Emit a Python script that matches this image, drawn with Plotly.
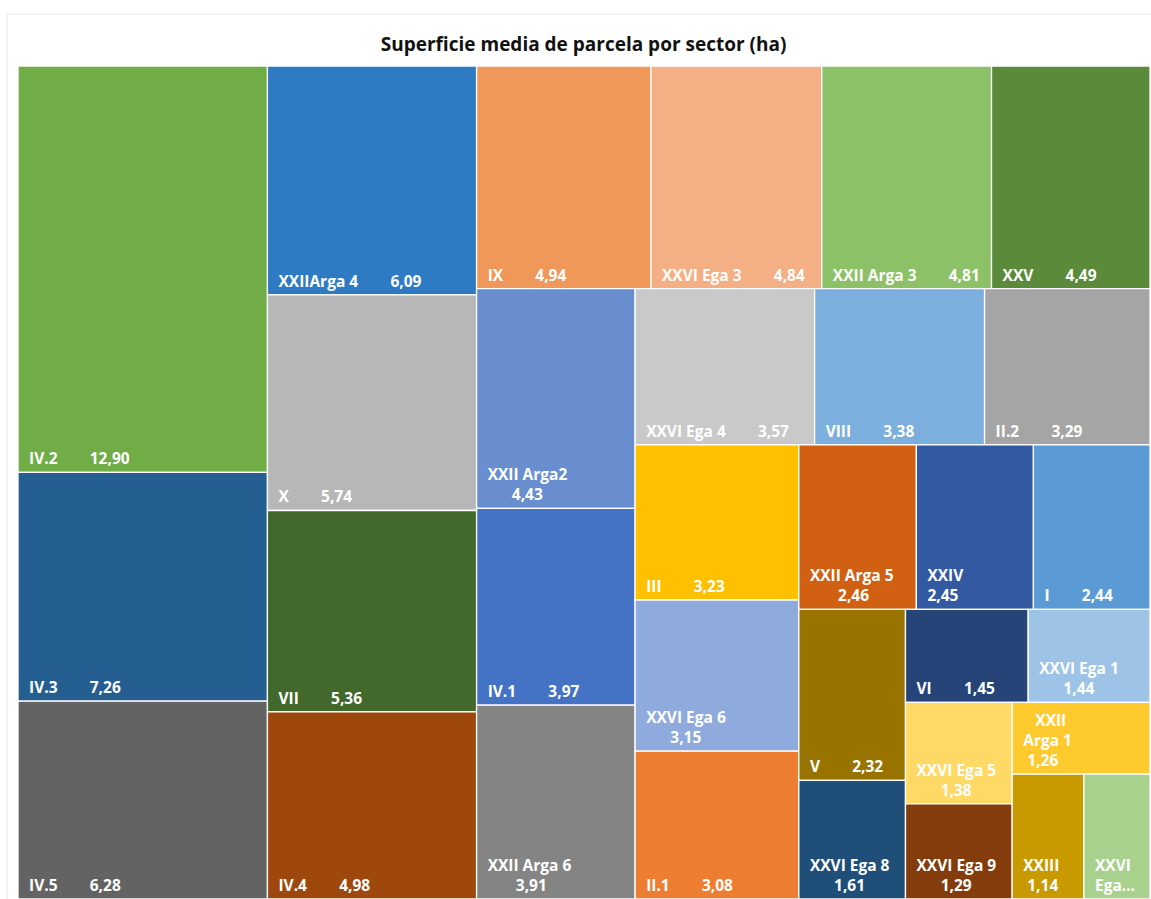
import plotly.graph_objects as go

labels = ["IV.2", "IV.3", "IV.5", "XXIIArga 4", "X", "VII", "IV.4",
          "IX", "XXVI Ega 3", "XXII Arga 3", "XXV",
          "XXII Arga2", "IV.1", "XXII Arga 6",
          "XXVI Ega 4", "VIII", "II.2",
          "III", "XXVI Ega 6", "II.1",
          "XXII Arga 5", "XXIV", "I",
          "V", "XXVI Ega 8", "VI", "XXVI Ega 1",
          "XXVI Ega 5", "XXVI Ega 9", "XXII Arga 1", "XXIII", "XXVI Ega 7"]
values = [12.90, 7.26, 6.28, 6.09, 5.74, 5.36, 4.98,
          4.94, 4.84, 4.81, 4.49,
          4.43, 3.97, 3.91,
          3.57, 3.38, 3.29,
          3.23, 3.15, 3.08,
          2.46, 2.45, 2.44,
          2.32, 1.61, 1.45, 1.44,
          1.38, 1.29, 1.26, 1.14, 1.05]
# how each label is shown in its cell (one line, wrapped, or cut, as in the reference)
display_mode = ["line", "line", "line", "line", "line", "line", "line",
                "line", "line", "line", "line",
                "wrap", "line", "wrap",
                "line", "line", "line",
                "line", "wrap", "line",
                "wrap", "wrap", "line",
                "line", "wrap", "line", "wrap",
                "wrap", "wrap", "wrap3", "wrap", "cut"]
colors = ["#70AD47", "#255E91", "#636363", "#2E7BC3", "#B7B7B7", "#43682B", "#9E480E",
          "#F0985A", "#F4B084", "#8CC168", "#5A8A3A",
          "#698ED0", "#4472C4", "#848484",
          "#C9C9C9", "#7CAFDD", "#A5A5A5",
          "#FFC000", "#8FAADC", "#ED7D31",
          "#D26012", "#335AA1", "#5B9BD5",
          "#997300", "#1F4E79", "#264478", "#9DC3E6",
          "#FFD966", "#843C0C", "#FFCA2E", "#C99A00", "#A9D18E"]

NB = "&nbsp;"
PAD = "&nbsp;&nbsp;"

texts = []
for lab, v, m in zip(labels, values, display_mode):
    vs = f"{v:.2f}".replace(".", ",")
    if m == "line":
        t = f"{PAD}{lab}{NB * 8}{vs}"
    elif m == "wrap":
        off = max(len(lab) - len(vs), 0)
        t = f"{PAD}{lab}<br>{PAD}{NB * off}{vs}"
    elif m == "wrap3":
        a, b = lab.split(" ", 1)
        t = f"{PAD}{NB * 3}{a}<br>{PAD}{b}<br>{PAD}{NB}{vs}"
    else:
        t = f"{PAD}XXVI<br>{PAD}Ega..."
    texts.append(f"<b>{t}</b>")

FONT = "Open Sans, Lato, sans-serif"

fig = go.Figure(go.Treemap(
    labels=labels,
    parents=[""] * len(labels),
    values=values,
    customdata=texts,
    texttemplate="%{customdata}",
    textposition="bottom left",
    sort=True,
    tiling=dict(packing="squarify", squarifyratio=1.03, pad=0),
    marker=dict(colors=colors, line=dict(color="white", width=1.3),
                pad=dict(t=0, l=0, r=0, b=0)),
    textfont=dict(family=FONT, size=15.5, color="white"),
    insidetextfont=dict(family=FONT, size=15.5, color="white"),
    pathbar=dict(visible=False),
    hoverinfo="label+value",
))

fig.update_layout(
    width=1151, height=899,
    margin=dict(l=18, r=1, t=66, b=0),
    paper_bgcolor="white",
    separators=",.",
    title=dict(text="<b>Superficie media de parcela por sector (ha)</b>",
               x=0.507, xanchor="center", y=0.951, yanchor="middle",
               font=dict(family=FONT, size=19, color="#111111")),
    shapes=[dict(type="rect", xref="paper", yref="paper", x0=-0.0097, x1=1.01, y0=-0.01, y1=1.0624,
                 line=dict(color="#E6E6E6", width=1))],
)

fig.write_html("out.html", config={"displayModeBar": False},
               post_script="document.body.style.margin='0';")
